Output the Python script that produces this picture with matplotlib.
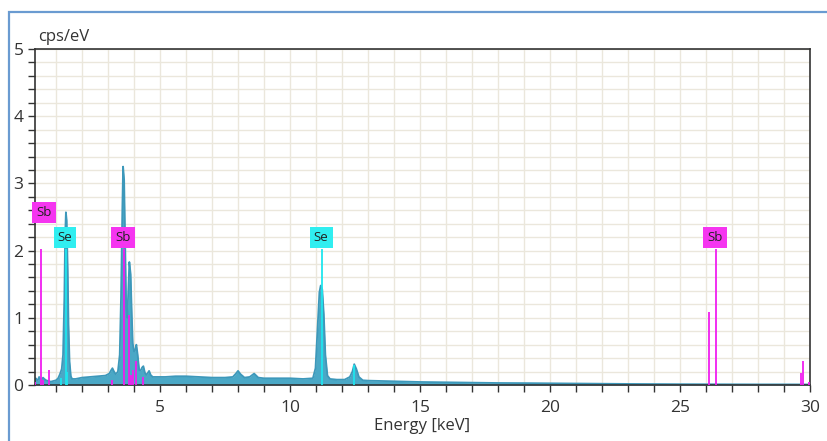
import matplotlib
matplotlib.use("Agg")
import matplotlib.pyplot as plt
from matplotlib.patches import Rectangle
from matplotlib.ticker import MultipleLocator

plt.rcParams['font.family'] = ['Open Sans', 'DejaVu Sans']

# ---- spectrum (energy in keV, intensity in cps/eV) ----
energy_kev = [0.18, 0.22, 0.26, 0.30, 0.35, 0.40, 0.45, 0.50, 0.55, 0.62, 0.70, 0.80, 0.90, 1.00,
              1.08, 1.15, 1.22, 1.27, 1.32, 1.35, 1.38, 1.41, 1.45, 1.48, 1.52, 1.57, 1.62, 1.75,
              2.00, 2.30, 2.60, 2.90, 3.05, 3.12, 3.17, 3.23, 3.30, 3.38, 3.45, 3.50, 3.55, 3.58,
              3.62, 3.66, 3.70, 3.74, 3.78, 3.82, 3.87, 3.91, 3.95, 4.00, 4.05, 4.09, 4.14, 4.20,
              4.26, 4.31, 4.36, 4.42, 4.48, 4.53, 4.58, 4.64, 4.72, 4.85, 5.2, 5.6, 6.0, 6.5,
              7.0, 7.5, 7.8, 7.92, 8.0, 8.1, 8.25, 8.45, 8.62, 8.78, 9.0, 9.5, 10.0, 10.5,
              10.88, 10.98, 11.06, 11.13, 11.18, 11.24, 11.30, 11.36, 11.44, 11.54, 11.8, 12.1, 12.3, 12.4,
              12.47, 12.55, 12.65, 12.8, 13.0, 13.5, 14.0, 15.0, 16.0, 17.0, 18.0, 19.0, 20.0, 21.0,
              22.0, 23.0, 24.0, 25.0, 26.0, 27.0, 28.0, 29.0, 30.0]
counts_cps = [0.05, 0.10, 0.08, 0.07, 0.12, 0.09, 0.08, 0.11, 0.09, 0.07, 0.06, 0.05, 0.06, 0.07,
              0.10, 0.16, 0.24, 0.45, 1.30, 2.20, 2.57, 2.45, 1.70, 0.90, 0.35, 0.13, 0.09, 0.09,
              0.11, 0.12, 0.13, 0.14, 0.17, 0.22, 0.25, 0.20, 0.16, 0.20, 0.45, 1.30, 2.60, 3.25,
              3.05, 2.10, 1.15, 1.00, 1.40, 1.83, 1.65, 1.10, 0.62, 0.50, 0.52, 0.60, 0.45, 0.22,
              0.22, 0.26, 0.28, 0.18, 0.15, 0.18, 0.21, 0.15, 0.12, 0.12, 0.12, 0.13, 0.13, 0.12,
              0.11, 0.11, 0.12, 0.17, 0.21, 0.16, 0.11, 0.12, 0.17, 0.11, 0.10, 0.10, 0.10, 0.09,
              0.10, 0.25, 0.85, 1.38, 1.48, 1.42, 1.05, 0.45, 0.14, 0.09, 0.08, 0.08, 0.12, 0.20,
              0.31, 0.24, 0.12, 0.07, 0.065, 0.06, 0.055, 0.045, 0.04, 0.035, 0.03, 0.028, 0.025, 0.022,
              0.019, 0.016, 0.014, 0.012, 0.011, 0.010, 0.009, 0.009, 0.008]

# ---- element marker lines ----
sb_line_kev = [0.20, 0.41, 0.50, 0.72, 3.17, 3.60, 3.82, 3.88, 3.95, 4.08, 4.33, 26.13, 26.37, 29.65, 29.73, 29.98]
sb_line_height = [0.05, 2.02, 0.07, 0.22, 0.08, 2.02, 1.04, 0.15, 0.22, 0.35, 0.12, 1.08, 2.02, 0.18, 0.35, 0.05]
se_line_kev = [1.19, 1.38, 1.43, 11.22, 12.47]
se_line_height = [0.10, 2.02, 0.20, 2.02, 0.30]

# ---- element labels ----
label_text = ["Sb", "Se", "Sb", "Se", "Sb"]
label_kev = [0.54, 1.35, 3.58, 11.20, 26.35]
label_y = [2.57, 2.20, 2.20, 2.20, 2.20]
label_elem = ["Sb", "Se", "Sb", "Se", "Sb"]

x_ticks = [5, 10, 15, 20, 25, 30]
y_ticks = [0, 1, 2, 3, 4, 5]

SB_COLOR = '#f01ef0'
SE_COLOR = '#1ee6ee'
SB_BOX = '#f535f0'
SE_BOX = '#30eef0'
FILL = '#4aa8c6'
EDGE = '#3d98ba'

fig = plt.figure(figsize=(8.27, 4.41), dpi=100)
ax = fig.add_axes([34.7 / 827, 1 - 385 / 441, (810 - 34.7) / 827, (385 - 49) / 441])

ax.fill_between(energy_kev, counts_cps, 0, color=FILL, lw=0, zorder=2)
ax.plot(energy_kev, counts_cps, color=EDGE, lw=1.3, zorder=2)

ax.vlines(sb_line_kev, 0, sb_line_height, color=SB_COLOR, lw=1.3, zorder=3)
ax.vlines(se_line_kev, 0, se_line_height, color=SE_COLOR, lw=1.3, zorder=3)

for t, xk, yv, el in zip(label_text, label_kev, label_y, label_elem):
    bc = SB_BOX if el == "Sb" else SE_BOX
    ax.text(xk, yv, t, ha='center', va='center', fontsize=9.5, color='#222222', zorder=5,
            bbox=dict(boxstyle='square,pad=0.3', fc=bc, ec='none'))

ax.set_xlim(0.18, 30)
ax.set_ylim(0, 5)
ax.set_xticks(x_ticks)
ax.set_yticks(y_ticks)
ax.xaxis.set_minor_locator(MultipleLocator(1))
ax.yaxis.set_minor_locator(MultipleLocator(0.2))
ax.grid(True, which='both', color='#ebe7dc', lw=1.0, zorder=0)
ax.set_axisbelow(True)
ax.tick_params(which='both', direction='out', length=5, width=1, color='#333333')
ax.tick_params(axis='both', labelsize=12.5, labelcolor='#333333')
ax.tick_params(axis='y', pad=3)
ax.tick_params(axis='x', pad=6)
for s in ax.spines.values():
    s.set_color('#333333')
    s.set_linewidth(1.2)

ax.set_xlabel('Energy [keV]', fontsize=12, color='#333333', labelpad=1)
fig.text(38 / 827, 1 - 37 / 441, 'cps/eV', fontsize=12, color='#333333', ha='left', va='center')

fig.patches.append(Rectangle((9 / 827, -0.05), 1.1, 1.05 + (1 - 12 / 441) - 1, transform=fig.transFigure,
                             fill=False, ec='#6a9bd1', lw=1.6, figure=fig))

fig.savefig('out.png', dpi=100)
